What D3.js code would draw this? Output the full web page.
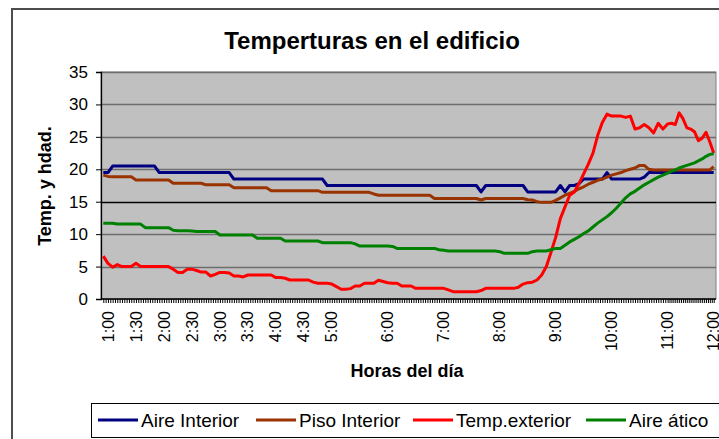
<!DOCTYPE html>
<html><head><meta charset="utf-8">
<script src="https://cdn.jsdelivr.net/npm/d3@7"></script>
<style>
body{margin:0;background:#fff;overflow:hidden}
text{font-family:Arial,"Liberation Sans",sans-serif;fill:#000}
</style>
</head><body>
<svg id="chart" width="719" height="439"></svg>
<script>
// Sampling of the category axis (minutes after midnight, every 5 minutes)
const startMinute = 55;
const stepMinutes = 5;

const seriesNames = ["Aire Interior", "Piso Interior", "Temp.exterior", "Aire ático"];

const aireInterior = [19.5,19.5,
20.5,20.5,20.5,20.5,20.5,20.5,20.5,20.5,20.5,20.5,
19.5,19.5,19.5,19.5,19.5,19.5,19.5,19.5,19.5,19.5,19.5,19.5,19.5,19.5,19.5,19.5,
18.5,18.5,18.5,18.5,18.5,18.5,18.5,18.5,18.5,18.5,18.5,18.5,18.5,18.5,18.5,18.5,18.5,18.5,18.5,18.5,
17.5,17.5,17.5,17.5,17.5,17.5,17.5,17.5,17.5,17.5,17.5,17.5,17.5,17.5,17.5,17.5,17.5,17.5,17.5,17.5,17.5,17.5,17.5,17.5,17.5,17.5,17.5,17.5,17.5,17.5,17.5,17.5,17.5,
16.5,
17.5,17.5,17.5,17.5,17.5,17.5,17.5,17.5,17.5,
16.5,16.5,16.5,16.5,16.5,16.5,16.5,
17.5,16.5,17.5,17.5,17.8,
18.5,18.5,18.5,18.5,18.5,
19.5,
18.5,18.5,18.5,18.5,18.5,18.5,18.5,
18.8,
19.5,19.5,19.5,19.5,19.5,19.5,19.5,19.5,19.5,19.5,19.5,19.5,19.5,19.5,19.5,19.5,19.5];

const pisoInterior = [19.1,18.9,
18.85,18.85,18.85,18.85,18.85,
18.35,18.35,18.35,18.35,18.35,18.35,18.35,18.35,
17.85,17.85,17.85,17.85,17.85,17.85,17.85,
17.6,17.6,17.6,17.6,17.6,17.6,
17.15,17.15,17.15,17.15,17.15,17.15,17.15,17.15,
16.7,16.7,16.7,16.7,16.7,16.7,16.7,16.7,16.7,16.7,16.7,
16.45,16.45,16.45,16.45,16.45,16.45,16.45,16.45,16.45,16.45,16.45,
16.2,
16.0,16.0,16.0,16.0,16.0,16.0,16.0,16.0,16.0,16.0,16.0,16.0,
15.5,15.5,15.5,15.5,15.5,15.5,15.5,15.5,15.5,15.5,
15.26,
15.5,15.5,15.5,15.5,15.5,15.5,15.5,15.5,15.5,
15.3,15.26,15.0,14.9,14.9,14.9,
15.2,15.6,16.0,16.3,16.6,17.0,17.3,17.7,18.0,18.3,18.5,18.8,19.1,19.3,19.5,19.8,20.0,20.2,20.6,20.6,20.0,
19.9,19.9,19.9,19.9,19.9,19.9,19.9,19.9,19.9,19.9,19.9,19.9,19.9,19.9,19.9,
20.4];

const tempExterior = [6.6,5.5,4.9,5.3,5.0,5.0,5.0,5.5,
5.0,5.0,5.0,5.0,5.0,5.0,5.0,
4.6,4.1,4.1,4.6,4.6,4.4,4.15,4.15,3.55,3.8,4.1,4.1,4.0,3.55,3.55,3.4,
3.7,3.7,3.7,3.7,3.7,3.7,
3.3,3.3,3.2,
2.93,2.93,2.93,2.93,2.93,
2.6,
2.42,2.42,2.42,
2.3,1.9,1.5,1.5,1.6,2.0,2.0,2.42,2.42,2.42,2.9,2.7,2.5,2.42,2.42,
2.0,2.0,2.0,
1.64,1.64,1.64,1.64,1.64,1.64,1.64,
1.4,
1.13,1.13,1.13,1.13,1.13,1.13,
1.3,
1.64,1.64,1.64,1.64,1.64,1.64,1.64,
1.8,2.3,2.52,2.6,2.93,3.7,5.0,7.2,9.5,12.4,
14.2,16.0,16.5,17.8,19.3,20.8,22.5,25.2,27.2,28.5,
28.2,28.2,28.2,28.0,28.2,26.2,26.4,26.9,26.4,25.6,
27.1,26.2,27.0,27.1,26.9,28.7,27.8,26.4,26.2,25.8,
24.4,24.8,25.7,24.2,22.5];

const aireAtico = [11.67,11.67,11.67,
11.55,11.55,11.55,11.55,11.55,11.55,
11.0,11.0,11.0,11.0,11.0,11.0,
10.6,10.53,10.53,10.53,10.5,
10.4,10.4,10.4,10.4,10.4,
9.87,9.87,9.87,9.87,9.87,9.87,9.87,9.87,
9.36,9.36,9.36,9.36,9.36,9.36,
8.94,8.94,8.94,8.94,8.94,8.94,8.94,8.94,
8.69,8.69,8.69,8.69,8.69,8.69,8.69,
8.5,
8.17,8.17,8.17,8.17,8.17,8.17,8.17,
8.1,
7.8,7.8,7.8,7.8,7.8,7.8,7.8,7.8,7.8,
7.6,7.5,
7.4,7.4,7.4,7.4,7.4,7.4,7.4,7.4,7.4,7.4,7.4,
7.3,
7.04,7.04,7.04,7.04,7.04,7.04,
7.3,7.4,7.4,7.4,
7.6,7.8,7.8,8.3,8.8,9.2,9.6,10.1,10.5,11.1,
11.7,12.2,12.7,13.3,14.0,14.8,15.6,16.2,16.6,17.1,
17.6,18.0,18.4,18.8,19.1,19.4,19.7,19.9,20.2,20.4,
20.6,20.8,21.0,21.3,21.6,22.0,22.3,22.4];

const tickHours  = [1, 1.5, 2, 2.5, 3, 3.5, 4, 4.5, 5, 6, 7, 8, 9, 10, 11, 12];
const tickLabels = ["1:00","1:30","2:00","2:30","3:00","3:30","4:00","4:30","5:00","6:00","7:00","8:00","9:00","10:00","11:00","12:00"];
const yTicks = [0, 5, 10, 15, 20, 25, 30, 35];

const colors = ["#000080", "#993300", "#FF0000", "#008000"];
const allSeries = [aireInterior, pisoInterior, tempExterior, aireAtico];
const hours = aireInterior.map((_, i) => (startMinute + i * stepMinutes) / 60);

const svg = d3.select("#chart");
const plot = {left: 101, right: 716, top: 72, bottom: 299};

// Outer chart border (cropped on the right and bottom)
svg.append("rect").attr("x", 12).attr("y", 9).attr("width", 740).attr("height", 470)
  .attr("fill", "#fff").attr("stroke", "#4d4d4d").attr("stroke-width", 2);

const x = d3.scaleLinear().domain([startMinute / 60, 11, 12]).range([103.3, 667.6, 713.7]);
const y = d3.scaleLinear().domain([0, 35]).range([plot.bottom, plot.top]);

// Plot area
svg.append("rect").attr("x", plot.left).attr("y", plot.top)
  .attr("width", plot.right - plot.left).attr("height", plot.bottom - plot.top)
  .attr("fill", "#C0C0C0").attr("stroke", "#808080").attr("stroke-width", 1);

// Gridlines
svg.append("g").selectAll("line").data(yTicks.filter(d => d > 0)).join("line")
  .attr("x1", plot.left).attr("x2", plot.right)
  .attr("y1", d => Math.round(y(d)) + 0.5).attr("y2", d => Math.round(y(d)) + 0.5)
  .attr("stroke", d => d === 15 ? "#000" : "#6e6e6e").attr("stroke-width", 1.3);

// Y axis
const yAxis = d3.axisLeft(y).tickValues(yTicks).tickSize(5).tickPadding(8).tickFormat(d3.format("d"));
const yg = svg.append("g").attr("transform", `translate(${plot.left},0)`).call(yAxis);
yg.select(".domain").attr("stroke", "#000").attr("stroke-width", 1.3);
yg.selectAll(".tick line").attr("stroke", "#000");
yg.selectAll(".tick text").attr("font-size", 17).attr("font-family", "Arial, 'Liberation Sans', sans-serif").attr("fill", "#000");

// X axis minor ticks
const minorTicks = d3.range(startMinute, 12 * 60 + 0.1, 2.5).map(m => m / 60);
const xAxisMinor = d3.axisBottom(x).tickValues(minorTicks).tickSize(4).tickFormat("");
const xg = svg.append("g").attr("transform", `translate(0,${plot.bottom})`).call(xAxisMinor);
xg.select(".domain").remove();
xg.selectAll(".tick line").attr("stroke", "#000");
svg.append("line").attr("x1", plot.left).attr("x2", plot.right)
  .attr("y1", plot.bottom).attr("y2", plot.bottom).attr("stroke", "#000").attr("stroke-width", 1.3);

// X labels (rotated)
svg.append("g").selectAll("text").data(tickHours).join("text")
  .attr("transform", (d) => `translate(${x(d)},311) rotate(-90)`)
  .attr("text-anchor", "end").attr("dy", "0.35em")
  .attr("font-size", 16)
  .text((d, i) => tickLabels[i]);

// Lines
const line = d3.line().x((d, i) => x(hours[i])).y(d => y(d));
svg.append("g").selectAll("path").data(allSeries).join("path")
  .attr("d", line).attr("fill", "none")
  .attr("stroke", (d, i) => colors[i]).attr("stroke-width", 3)
  .attr("stroke-linejoin", "round");

// Title & axis titles
svg.append("text").attr("x", 372).attr("y", 49).attr("text-anchor", "middle")
  .attr("font-size", 24).attr("font-weight", "bold").text("Temperturas en el edificio");
svg.append("text").attr("transform", "translate(51,186) rotate(-90)").attr("text-anchor", "middle")
  .attr("font-size", 18).attr("font-weight", "bold").text("Temp. y hdad.");
svg.append("text").attr("x", 407).attr("y", 377).attr("text-anchor", "middle")
  .attr("font-size", 18).attr("font-weight", "bold").text("Horas del día");

// Legend
svg.append("rect").attr("x", 91.5).attr("y", 403.5).attr("width", 700).attr("height", 34)
  .attr("fill", "#fff").attr("stroke", "#000").attr("stroke-width", 1);
const legendX = [98, 256, 413, 586];
const lg = svg.append("g").selectAll("g").data(seriesNames).join("g")
  .attr("transform", (d, i) => `translate(${legendX[i]},420)`);
lg.append("line").attr("x1", 0).attr("x2", 40).attr("y1", 0).attr("y2", 0)
  .attr("stroke", (d, i) => colors[i]).attr("stroke-width", 3);
lg.append("text").attr("x", 43).attr("y", 6.8).attr("font-size", 19).text(d => d);
</script>
</body></html>
